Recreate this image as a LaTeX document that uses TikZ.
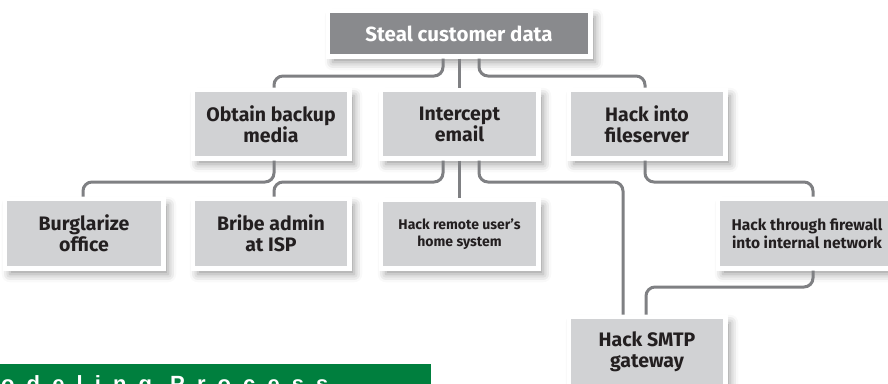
\documentclass[tikz,border=0pt]{standalone}
\usepackage{fontspec}
\setmainfont{Fira Sans}
\usetikzlibrary{shadows.blur}
\definecolor{boxgray}{HTML}{D1D2D4}
\definecolor{rootgray}{HTML}{898A8D}
\definecolor{linegray}{HTML}{7F8083}
\definecolor{txt}{HTML}{231F20}
\definecolor{bannergreen}{HTML}{007F3E}
\newfontfamily\bannerfont[LetterSpace=55]{Liberation Sans}
\begin{document}
\begin{tikzpicture}[x=1pt,y=-1pt,
  box/.style={fill=boxgray, draw=white, line width=4.5pt, text=txt,
    font=\bfseries\fontsize{19.5}{21}\selectfont, align=center, inner sep=0pt,
    blur shadow={shadow xshift=5pt, shadow yshift=-6pt, shadow blur radius=8pt, shadow opacity=40}},
  rootbox/.style={box, fill=rootgray, text=white, font=\bfseries\fontsize{20.5}{22}\selectfont},
  smalltext/.style={font=\bfseries\fontsize{14}{17}\selectfont},
  midtext/.style={font=\bfseries\fontsize{15.5}{18}\selectfont},
  conn/.style={draw=linegray, line width=3pt, rounded corners=9pt}]
\useasboundingbox (0,0) rectangle (888,383);
\clip (0,0) rectangle (888,383);

\node[rootbox, minimum width=262.5pt, minimum height=45.5pt] (root) at (459,33.5) {Steal customer data};

\node[box, minimum width=156.5pt, minimum height=68.5pt] (obtain) at (271,124) {Obtain backup\\media};
\node[box, minimum width=157.5pt, minimum height=68.5pt] (intercept) at (459.5,124) {Intercept\\email};
\node[box, minimum width=156.5pt, minimum height=68.5pt] (fileserver) at (647,124) {Hack into\\fileserver};

\node[box, minimum width=158.5pt, minimum height=69.5pt] (burglarize) at (84,233.5) {Burglarize\\office};
\node[box, minimum width=156.5pt, minimum height=69.5pt] (bribe) at (271,233.5) {Bribe admin\\at ISP};
\node[box, smalltext, minimum width=157.5pt, minimum height=68.5pt] (remote) at (459.5,234) {Hack remote user’s\\home system};
\node[box, midtext, minimum width=178.5pt, minimum height=69.5pt] (firewall) at (807,233.5) {Hack through firewall\\into internal network};

\node[box, minimum width=156.5pt, minimum height=69.5pt] (smtp) at (647,351.5) {Hack SMTP\\gateway};

% connectors
\draw[conn] ([xshift=-16pt]root.south) -- ++(0,17.5) -| ([xshift=3pt]obtain.north);
\draw[conn] (intercept.north |- root.south) -- (intercept.north);
\draw[conn] ([xshift=20pt]root.south) -- ++(0,17.5) -| ([xshift=-2pt]fileserver.north);

\draw[conn] ([xshift=3pt]obtain.south) -- ++(0,21.5) -| ([xshift=-1pt]burglarize.north);
\draw[conn] ([xshift=-16.5pt]intercept.south) -- ++(0,21.5) -| ([xshift=3pt]bribe.north);
\draw[conn] (intercept.south) -- (remote.north);
\draw[conn] ([xshift=19.5pt]intercept.south) -- ++(0,21.5) -| ([xshift=-24pt]smtp.north);
\draw[conn] ([xshift=-2pt]fileserver.south) -- ++(0,21.5) -| ([xshift=6pt]firewall.north);
\draw[conn] ([xshift=6pt]firewall.south) -- ++(0,16.5) -| ([xshift=-1pt]smtp.north);

% banner
\fill[bannergreen] (0,364) rectangle (431,384);
\node[anchor=base west, inner sep=0pt, text=white, font=\bannerfont\bfseries\fontsize{22}{22}\selectfont] (banner) at (1,391) {odeling Process};
\end{tikzpicture}
\end{document}
